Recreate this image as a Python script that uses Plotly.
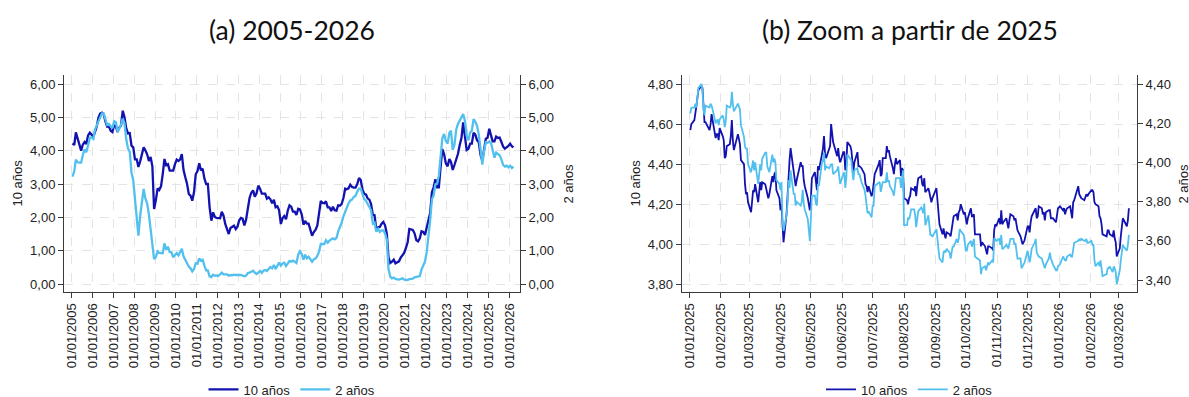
import pandas as pd
import plotly.graph_objects as go

# Rentabilidad media mensual (%) de la deuda pública a 10 años y a 2 años, ene-2005 a mar-2026
rend10_mensual = [
    4.22, 4.17, 4.55, 4.34, 4.14, 4.00, 4.18, 4.26, 4.20, 4.46, 4.54, 4.47,
    4.42, 4.57, 4.72, 4.99, 5.11, 5.14, 5.09, 4.88, 4.72, 4.73, 4.60, 4.56,
    4.76, 4.72, 4.56, 4.69, 4.75, 5.20, 5.00, 4.67, 4.52, 4.53, 4.15, 4.10,
    3.74, 3.74, 3.51, 3.68, 3.88, 4.10, 4.01, 3.89, 3.69, 3.81, 3.53, 2.25,
    2.52, 2.87, 2.82, 2.93, 3.29, 3.75, 3.56, 3.59, 3.40, 3.39, 3.40, 3.59,
    3.73, 3.69, 3.73, 3.90, 3.42, 3.20, 3.01, 2.70, 2.65, 2.50, 2.76, 3.29,
    3.39, 3.62, 3.41, 3.46, 3.17, 3.00, 3.00, 2.30, 1.90, 2.15, 2.01, 1.98,
    1.97, 1.97, 2.17, 2.05, 1.80, 1.62, 1.50, 1.68, 1.72, 1.75, 1.65, 1.72,
    1.91, 1.98, 1.96, 1.76, 1.93, 2.30, 2.58, 2.74, 2.81, 2.62, 2.72, 2.95,
    2.86, 2.71, 2.72, 2.71, 2.56, 2.60, 2.54, 2.42, 2.53, 2.30, 2.33, 2.21,
    1.80, 1.98, 2.04, 1.94, 2.20, 2.36, 2.32, 2.17, 2.17, 2.07, 2.26, 2.24,
    2.09, 1.78, 1.89, 1.81, 1.81, 1.64, 1.45, 1.56, 1.63, 1.76, 2.14, 2.49,
    2.43, 2.42, 2.48, 2.30, 2.30, 2.19, 2.32, 2.21, 2.20, 2.36, 2.35, 2.40,
    2.58, 2.86, 2.84, 2.87, 2.98, 2.91, 2.89, 2.89, 3.00, 3.18, 3.12, 2.83,
    2.71, 2.68, 2.57, 2.53, 2.40, 2.07, 2.06, 1.63, 1.70, 1.71, 1.81, 1.86,
    1.76, 1.50, 0.80, 0.63, 0.67, 0.73, 0.62, 0.65, 0.68, 0.79, 0.87, 0.93,
    1.08, 1.26, 1.65, 1.64, 1.62, 1.52, 1.32, 1.28, 1.37, 1.58, 1.56, 1.47,
    1.76, 1.93, 2.13, 2.75, 2.90, 3.14, 2.90, 2.90, 3.52, 4.05, 3.89, 3.62,
    3.53, 3.75, 3.66, 3.42, 3.57, 3.75, 3.90, 4.17, 4.38, 4.85, 4.50, 4.02,
    4.06, 4.21, 4.21, 4.54, 4.48, 4.31, 4.25, 3.87, 3.70, 4.10, 4.36, 4.39,
    4.66, 4.45, 4.28, 4.28, 4.42, 4.38, 4.39, 4.26, 4.12, 4.06, 4.09, 4.14,
    4.21, 4.13, 4.10,
]
rend2_mensual = [
    3.22, 3.38, 3.73, 3.65, 3.64, 3.64, 3.87, 4.04, 3.95, 4.17, 4.39, 4.39,
    4.35, 4.64, 4.74, 4.89, 4.97, 5.12, 5.12, 4.90, 4.77, 4.80, 4.74, 4.67,
    4.88, 4.85, 4.57, 4.67, 4.77, 4.96, 4.82, 4.34, 4.06, 3.97, 3.34, 3.12,
    2.48, 1.97, 1.45, 2.05, 2.45, 2.85, 2.57, 2.42, 2.08, 1.61, 1.21, 0.75,
    0.81, 0.98, 0.93, 0.93, 0.92, 1.22, 1.02, 1.12, 0.96, 0.95, 0.80, 0.87,
    0.93, 0.86, 0.96, 1.06, 0.83, 0.72, 0.62, 0.52, 0.47, 0.38, 0.45, 0.62,
    0.61, 0.77, 0.70, 0.73, 0.56, 0.41, 0.41, 0.23, 0.21, 0.28, 0.25, 0.26,
    0.24, 0.28, 0.34, 0.29, 0.29, 0.29, 0.25, 0.27, 0.26, 0.28, 0.27, 0.26,
    0.27, 0.27, 0.26, 0.23, 0.25, 0.33, 0.34, 0.36, 0.40, 0.34, 0.30, 0.34,
    0.39, 0.33, 0.40, 0.42, 0.39, 0.45, 0.51, 0.47, 0.57, 0.45, 0.53, 0.64,
    0.55, 0.62, 0.64, 0.54, 0.61, 0.69, 0.67, 0.70, 0.67, 0.63, 0.88, 0.98,
    0.90, 0.73, 0.88, 0.77, 0.82, 0.73, 0.67, 0.74, 0.77, 0.84, 0.98, 1.20,
    1.21, 1.20, 1.31, 1.24, 1.30, 1.34, 1.37, 1.34, 1.38, 1.57, 1.70, 1.84,
    2.03, 2.18, 2.28, 2.42, 2.51, 2.53, 2.61, 2.65, 2.77, 2.86, 2.86, 2.68,
    2.54, 2.50, 2.41, 2.34, 2.21, 1.81, 1.84, 1.57, 1.65, 1.56, 1.61, 1.61,
    1.52, 1.33, 0.45, 0.22, 0.17, 0.19, 0.15, 0.14, 0.13, 0.15, 0.17, 0.13,
    0.13, 0.12, 0.15, 0.16, 0.16, 0.20, 0.22, 0.22, 0.24, 0.43, 0.58, 0.68,
    0.97, 1.39, 1.91, 2.54, 2.65, 2.99, 3.01, 3.25, 3.86, 4.38, 4.50, 4.29,
    4.21, 4.53, 4.60, 4.02, 4.18, 4.63, 4.80, 4.91, 5.04, 5.10, 4.90, 4.45,
    4.31, 4.55, 4.59, 4.95, 4.87, 4.74, 4.49, 3.98, 3.58, 3.98, 4.25, 4.23,
    4.28, 4.22, 3.97, 3.79, 3.94, 3.90, 3.86, 3.74, 3.57, 3.52, 3.55, 3.50,
    3.55, 3.48, 3.52,
]
fechas_mensuales = pd.date_range("2005-01-01", "2026-03-01", freq="MS") + pd.Timedelta(days=14)

# Rentabilidad diaria desde enero de 2025 (días hábiles del mercado de bonos)
festivos = [
    "2025-01-01", "2025-01-09", "2025-01-20", "2025-02-17", "2025-04-18",
    "2025-05-26", "2025-06-19", "2025-07-04", "2025-09-01", "2025-10-13",
    "2025-11-11", "2025-11-27", "2025-12-25", "2026-01-01", "2026-01-19",
    "2026-02-16",
]
fechas_diarias = pd.bdate_range("2025-01-02", "2026-03-11", freq="C", holidays=festivos)

rend10_diario = [
    4.57, 4.60, 4.62, 4.67, 4.69, 4.77, 4.79, 4.78, 4.66, 4.61, 4.61, 4.57, 4.60, 4.65, 4.62, 4.53, 4.55, 4.55, 4.52, 4.58,
    4.54, 4.52, 4.43, 4.44, 4.49, 4.50, 4.54, 4.62, 4.52, 4.47, 4.55, 4.53, 4.50, 4.42, 4.40, 4.30, 4.25, 4.26, 4.21,
    4.16, 4.22, 4.27, 4.26, 4.30, 4.21, 4.28, 4.31, 4.27, 4.31, 4.30, 4.28, 4.25, 4.23, 4.25, 4.34, 4.31, 4.35, 4.36, 4.27, 4.23,
    4.17, 4.20, 4.06, 4.01, 4.15, 4.26, 4.34, 4.42, 4.48, 4.38, 4.33, 4.29, 4.32, 4.41, 4.39, 4.39, 4.32, 4.29, 4.23, 4.19, 4.17,
    4.22, 4.33, 4.36, 4.30, 4.27, 4.39, 4.37, 4.45, 4.48, 4.54, 4.45, 4.43, 4.47, 4.49, 4.60, 4.54, 4.51, 4.44, 4.48, 4.43, 4.41,
    4.46, 4.46, 4.37, 4.39, 4.51, 4.49, 4.47, 4.41, 4.36, 4.41, 4.46, 4.39, 4.39, 4.38, 4.35, 4.30, 4.29, 4.26, 4.29, 4.24,
    4.26, 4.30, 4.35, 4.40, 4.42, 4.34, 4.35, 4.43, 4.43, 4.49, 4.46, 4.47, 4.44, 4.38, 4.35, 4.40, 4.43, 4.40, 4.42, 4.34, 4.38, 4.37,
    4.23, 4.22, 4.20, 4.23, 4.24, 4.28, 4.27, 4.29, 4.24, 4.29, 4.33, 4.34, 4.30, 4.29, 4.33, 4.26, 4.28, 4.26, 4.24, 4.21, 4.23,
    4.28, 4.22, 4.17, 4.10, 4.05, 4.08, 4.05, 4.03, 4.06, 4.05, 4.04, 4.08, 4.11, 4.14, 4.15, 4.12, 4.16, 4.17, 4.20, 4.15, 4.16,
    4.12, 4.10, 4.13, 4.18, 4.14, 4.14, 4.15, 4.05, 4.05, 4.05, 3.99, 4.01, 3.99, 3.96, 3.95, 3.99, 3.99, 3.98, 3.97, 4.07, 4.10, 4.09,
    4.13, 4.10, 4.17, 4.10, 4.11, 4.13, 4.08, 4.12, 4.15, 4.14, 4.12, 4.13, 4.10, 4.07, 4.04, 4.01, 4.00, 4.02,
    4.09, 4.09, 4.06, 4.11, 4.14, 4.17, 4.18, 4.13, 4.14, 4.19, 4.18, 4.15, 4.16, 4.12, 4.16, 4.17, 4.17, 4.13, 4.13, 4.11, 4.14, 4.18,
    4.19, 4.17, 4.18, 4.15, 4.17, 4.18, 4.19, 4.16, 4.13, 4.21, 4.22, 4.29, 4.25, 4.24, 4.23, 4.22, 4.24, 4.25, 4.24, 4.25,
    4.27, 4.27, 4.26, 4.21, 4.20, 4.19, 4.14, 4.13, 4.10, 4.05, 4.04, 4.07, 4.07, 4.05, 4.04, 4.07, 4.03, 4.01, 3.94,
    3.98, 4.04, 4.09, 4.13, 4.12, 4.09, 4.12, 4.18,
]
rend2_diario = [
    4.25, 4.28, 4.28, 4.30, 4.28, 4.38, 4.40, 4.37, 4.27, 4.24, 4.29, 4.28, 4.30, 4.29, 4.27, 4.20, 4.21, 4.22, 4.19, 4.22,
    4.24, 4.22, 4.18, 4.21, 4.29, 4.28, 4.29, 4.36, 4.30, 4.26, 4.30, 4.28, 4.27, 4.19, 4.13, 4.08, 4.07, 4.07, 3.99,
    3.95, 3.98, 4.01, 3.96, 4.00, 3.89, 3.93, 3.99, 3.96, 4.02, 4.05, 4.05, 3.98, 3.96, 3.95, 4.04, 4.00, 4.02, 4.00, 3.91, 3.89,
    3.86, 3.90, 3.71, 3.65, 3.73, 3.79, 3.91, 3.87, 3.96, 3.84, 3.84, 3.78, 3.80, 3.78, 3.80, 3.86, 3.79, 3.76, 3.71, 3.67, 3.60,
    3.71, 3.83, 3.83, 3.79, 3.78, 3.89, 3.88, 4.00, 4.01, 4.05, 3.96, 3.98, 3.97, 3.98, 3.99, 3.99, 3.94, 3.96, 3.98, 3.93, 3.89,
    3.94, 3.95, 3.87, 3.92, 4.04, 4.02, 4.01, 3.95, 3.91, 3.96, 3.97, 3.94, 3.94, 3.90, 3.86, 3.83, 3.78, 3.74, 3.75, 3.72,
    3.78, 3.78, 3.88, 3.90, 3.90, 3.85, 3.87, 3.90, 3.90, 3.95, 3.90, 3.91, 3.88, 3.85, 3.83, 3.88, 3.92, 3.92, 3.92, 3.87, 3.94, 3.96,
    3.68, 3.68, 3.72, 3.71, 3.73, 3.76, 3.76, 3.73, 3.67, 3.73, 3.75, 3.77, 3.76, 3.74, 3.79, 3.68, 3.73, 3.68, 3.63, 3.63, 3.62,
    3.66, 3.61, 3.59, 3.51, 3.49, 3.54, 3.55, 3.54, 3.56, 3.54, 3.51, 3.55, 3.57, 3.57, 3.61, 3.59, 3.61, 3.66, 3.65, 3.63, 3.60,
    3.55, 3.55, 3.58, 3.60, 3.57, 3.59, 3.61, 3.52, 3.50, 3.50, 3.43, 3.46, 3.47, 3.45, 3.47, 3.49, 3.48, 3.50, 3.49, 3.61, 3.61, 3.60,
    3.61, 3.58, 3.63, 3.56, 3.56, 3.58, 3.56, 3.59, 3.61, 3.61, 3.58, 3.59, 3.55, 3.51, 3.51, 3.46, 3.47, 3.49,
    3.55, 3.51, 3.49, 3.52, 3.56, 3.59, 3.61, 3.54, 3.53, 3.52, 3.51, 3.49, 3.48, 3.46, 3.48, 3.51, 3.54, 3.51, 3.48, 3.45, 3.45, 3.47,
    3.48, 3.52, 3.51, 3.50, 3.50, 3.52, 3.53, 3.52, 3.52, 3.57, 3.59, 3.60, 3.61, 3.60, 3.61, 3.60, 3.60, 3.61, 3.59, 3.59,
    3.60, 3.58, 3.58, 3.50, 3.47, 3.49, 3.47, 3.50, 3.45, 3.42, 3.43, 3.46, 3.46, 3.47, 3.44, 3.47, 3.46, 3.44, 3.38,
    3.45, 3.50, 3.56, 3.58, 3.57, 3.55, 3.58, 3.63,
]

for serie in (rend10_mensual, rend2_mensual):
    assert len(serie) == len(fechas_mensuales), (len(serie), len(fechas_mensuales))
for serie in (rend10_diario, rend2_diario):
    assert len(serie) == len(fechas_diarias), (len(serie), len(fechas_diarias))

W, H = 1189, 397
AZUL = "#1212b0"
CELESTE = "#52c0ef"
TINTA = "#222222"
EJE = "#3a3a3a"
FUENTE = "Liberation Sans, Arial, sans-serif"


def px(x):
    return x / W


def py(y):
    return 1 - y / H


fig = go.Figure()
fig.add_trace(go.Scatter(x=fechas_mensuales, y=rend10_mensual, name="10 años", mode="lines",
                         line=dict(color=AZUL, width=2.3), xaxis="x", yaxis="y", legend="legend"))
fig.add_trace(go.Scatter(x=fechas_mensuales, y=rend2_mensual, name="2 años", mode="lines",
                         line=dict(color=CELESTE, width=2.3), xaxis="x", yaxis="y2", legend="legend"))
fig.add_trace(go.Scatter(x=fechas_diarias, y=rend10_diario, name="10 años", mode="lines",
                         line=dict(color=AZUL, width=1.8), xaxis="x2", yaxis="y3", legend="legend2"))
fig.add_trace(go.Scatter(x=fechas_diarias, y=rend2_diario, name="2 años", mode="lines",
                         line=dict(color=CELESTE, width=1.8), xaxis="x2", yaxis="y4", legend="legend2"))

eje = dict(showline=True, linecolor=EJE, linewidth=1, ticks="outside", ticklen=5, tickwidth=1,
           tickcolor=EJE, tickfont=dict(family=FUENTE, size=13, color=TINTA), zeroline=False,
           automargin=False, mirror=False)
rejilla = dict(showgrid=True, gridcolor="#e4e4e4", gridwidth=1, griddash="dash")
sin_rejilla = dict(showgrid=False)
dom_y = [py(292), py(75)]

fig.update_layout(
    width=W, height=H, autosize=False, template="none",
    paper_bgcolor="white", plot_bgcolor="white",
    margin=dict(l=0, r=0, t=0, b=0, autoexpand=False),
    separators=",.",
    showlegend=True,
    xaxis=dict(domain=[px(64), px(520)], anchor="y", type="date",
               range=["2004-08-19", "2026-07-07"], tick0="2005-01-01", dtick="M12",
               tickformat="%d/%m/%Y", tickangle=-90, **eje, **rejilla),
    yaxis=dict(domain=dom_y, anchor="x", range=[-0.24, 6.27], tick0=0, dtick=1,
               tickformat=".2f", **eje, **rejilla),
    yaxis2=dict(overlaying="y", anchor="x", side="right", range=[-0.24, 6.27], tick0=0, dtick=1,
                tickformat=".2f", **eje, **sin_rejilla),
    xaxis2=dict(domain=[px(681.7), px(1137)], anchor="y3", type="date",
                range=["2024-12-24 12:00", "2026-03-19"], tick0="2025-01-01", dtick="M1",
                tickformat="%d/%m/%Y", tickangle=-90, **eje, **rejilla),
    yaxis3=dict(domain=dom_y, anchor="x2", range=[3.762, 4.845], tick0=3.8, dtick=0.2,
                tickformat=".2f", **eje, **rejilla),
    yaxis4=dict(overlaying="y3", anchor="x2", side="right", range=[3.339, 4.446], tick0=3.4, dtick=0.2,
                tickformat=".2f", **eje, **sin_rejilla),
)

leyenda = dict(orientation="h", xanchor="center", yanchor="middle", y=py(389.5),
               font=dict(family=FUENTE, size=13, color=TINTA), bgcolor="rgba(0,0,0,0)",
               borderwidth=0, itemwidth=30, tracegroupgap=0)
fig.update_layout(legend=dict(x=px(292), **leyenda), legend2=dict(x=px(909.5), **leyenda))

titulo = dict(family="Lato, sans-serif", size=26.5, color="#111111")
rotulo = dict(family=FUENTE, size=13, color=TINTA)
anotaciones = [
    dict(text="(a) 2005-2026", x=px(292), y=py(30), font=titulo),
    dict(text="(b) Zoom a partir de 2025", x=px(909.5), y=py(30), font=titulo),
    dict(text="10 años", x=px(17), y=py(183.5), font=rotulo, textangle=-90),
    dict(text="2 años", x=px(568), y=py(183.5), font=rotulo, textangle=-90),
    dict(text="10 años", x=px(635), y=py(183.5), font=rotulo, textangle=-90),
    dict(text="2 años", x=px(1183), y=py(183.5), font=rotulo, textangle=-90),
]
for a in anotaciones:
    fig.add_annotation(xref="paper", yref="paper", showarrow=False,
                       xanchor="center", yanchor="middle", **a)

fig.write_html("out.html", post_script="document.body.style.margin='0';")
